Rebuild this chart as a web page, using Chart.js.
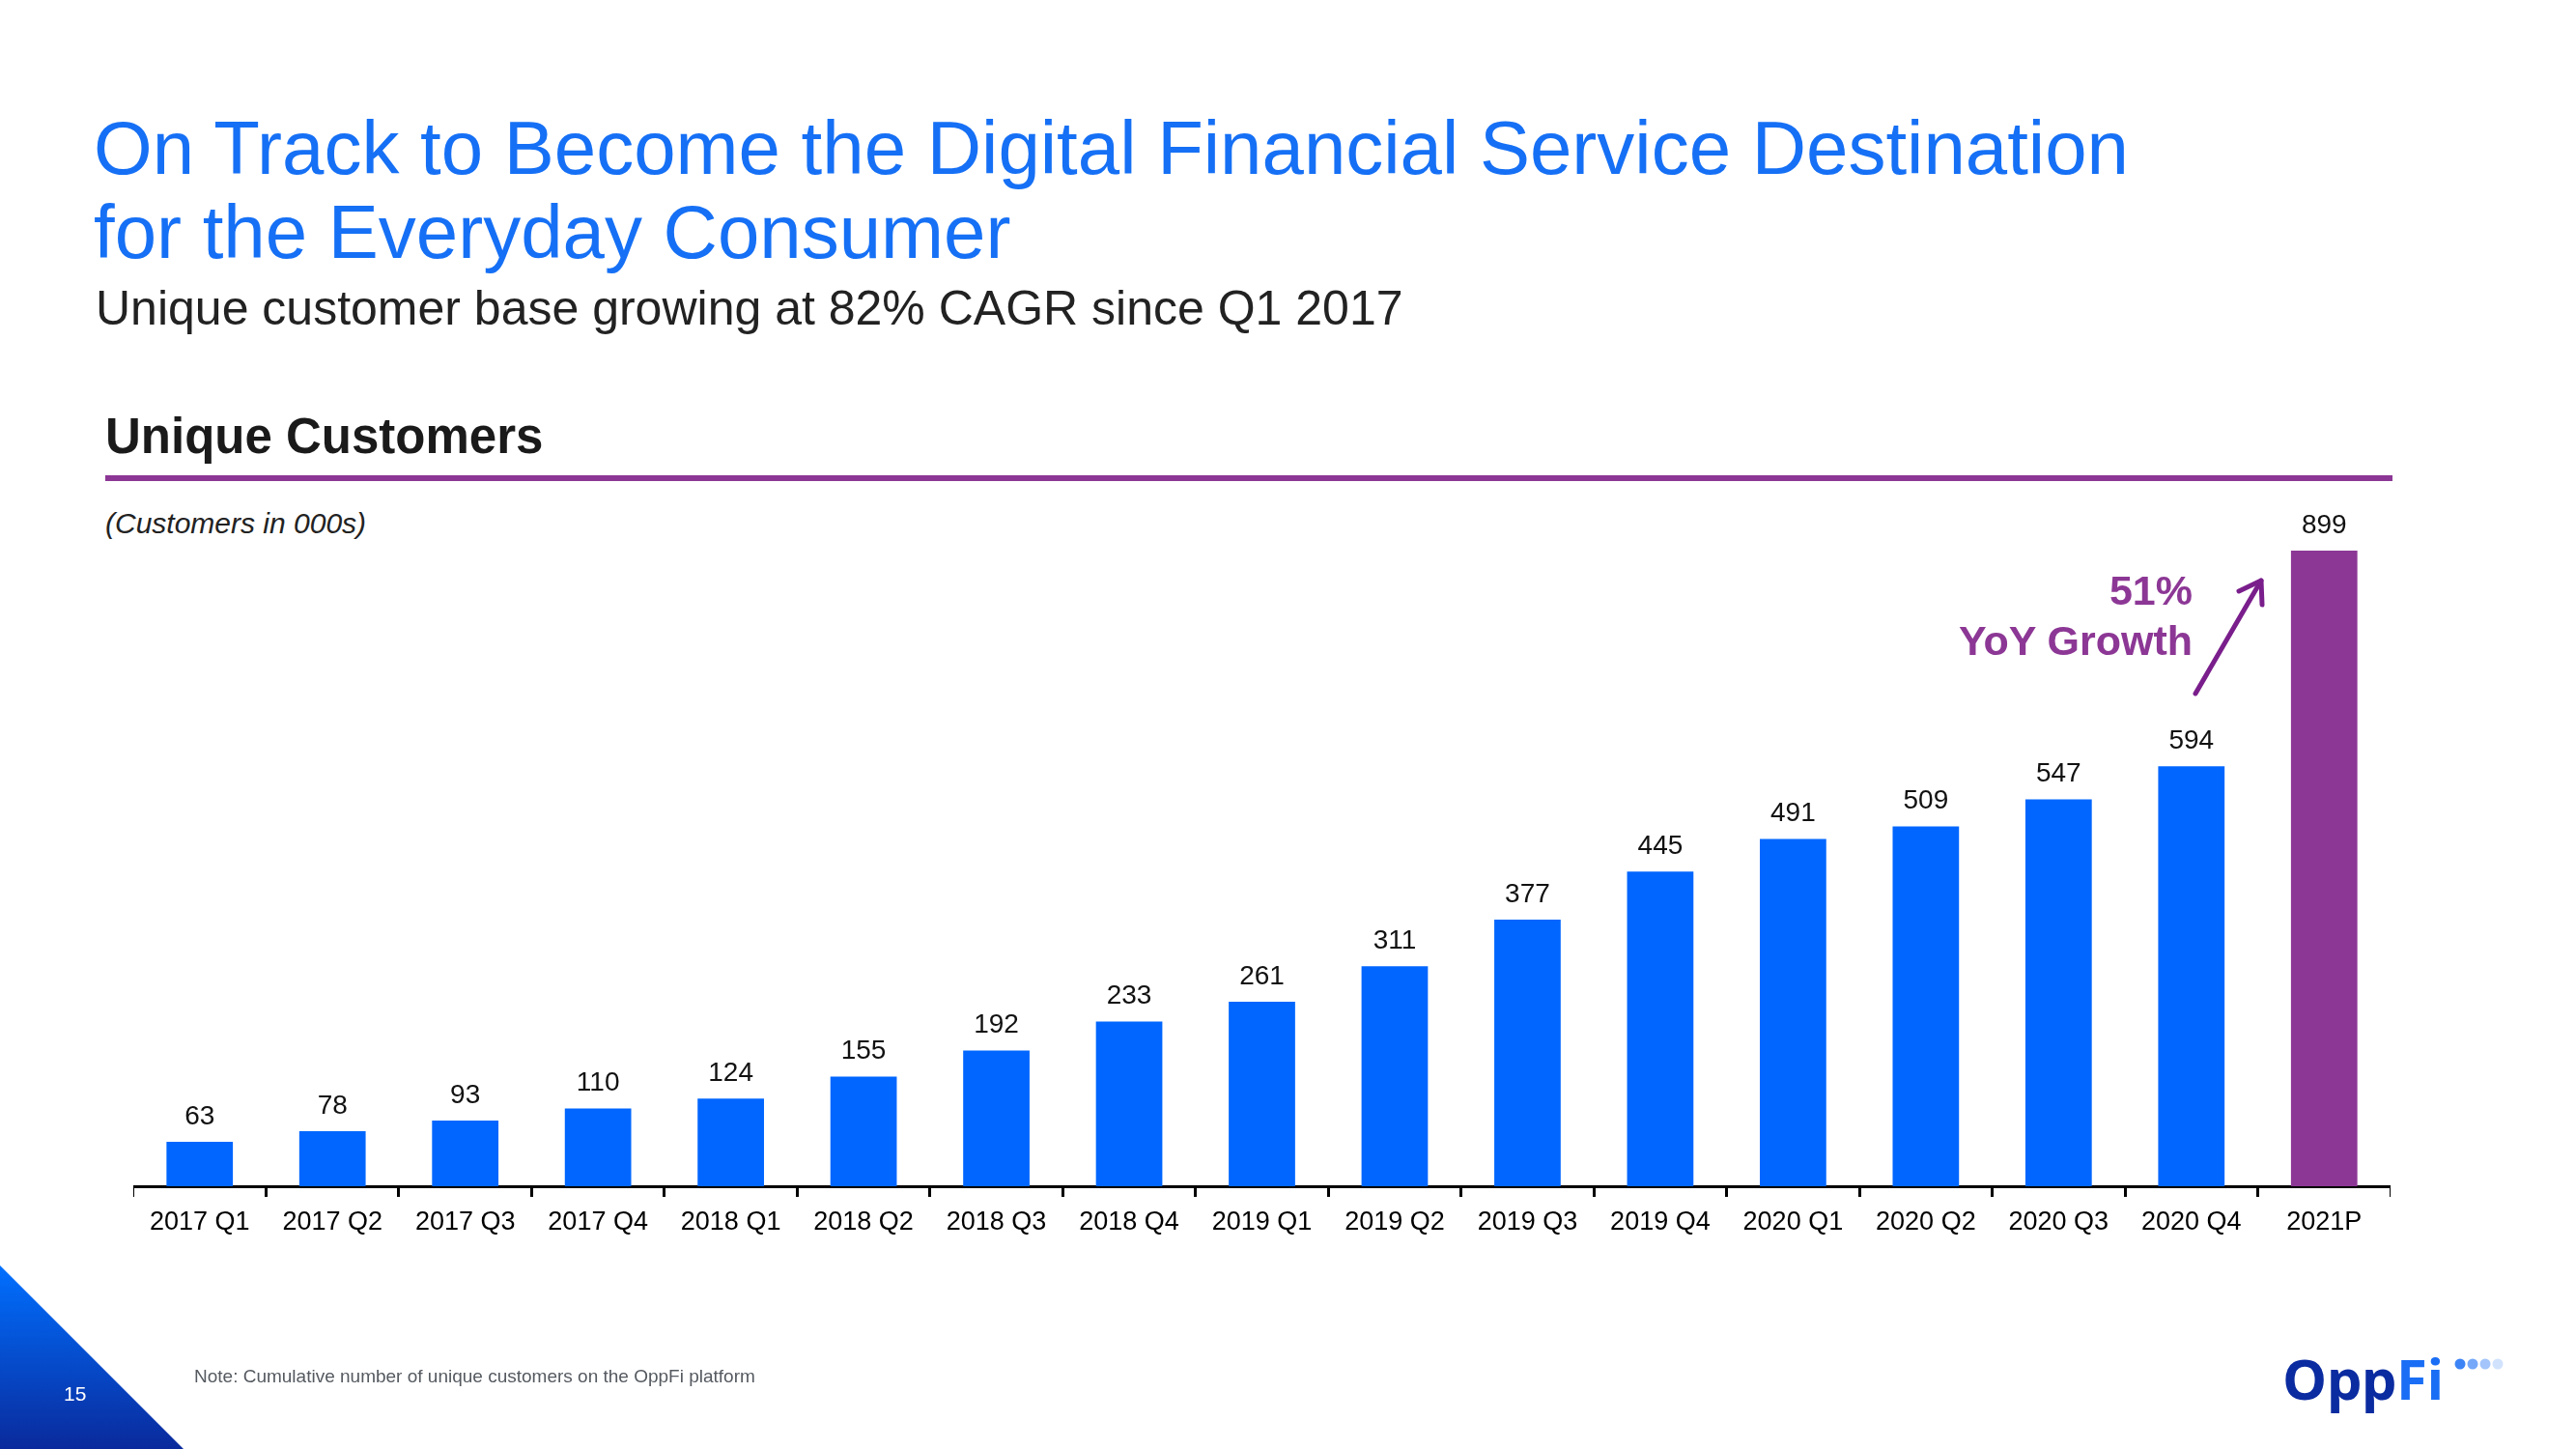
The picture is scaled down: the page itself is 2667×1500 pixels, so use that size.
<!DOCTYPE html>
<html>
<head>
<meta charset="utf-8">
<script src="https://cdn.jsdelivr.net/npm/chart.js@4/dist/chart.umd.min.js"></script>
<style>
  html, body { margin: 0; padding: 0; background: #fff; }
  body { width: 2667px; height: 1500px; position: relative; overflow: hidden;
         font-family: "Liberation Sans", Arial, Helvetica, sans-serif; }
  .abs { position: absolute; white-space: nowrap; }
  #title { left: 97px; top: 110px; font-size: 78px; line-height: 87px; color: #1670f5; }
  #subtitle { left: 99px; top: 294px; font-size: 50px; line-height: 50px; color: #222; }
  #sectionTitle { left: 109px; top: 427px; font-size: 51px; line-height: 50px; font-weight: bold; color: #1a1a1a; }
  #rule { left: 109px; top: 492px; width: 2368px; height: 6px; background: #8c3795; }
  #unit { left: 109px; top: 527px; font-size: 30px; line-height: 30px; font-style: italic; color: #222; }
  #growth { left: 1900px; top: 585px; width: 370px; text-align: right; font-size: 43px; line-height: 52px; font-weight: bold; color: #8c3795; }
  #chartBox { left: 138px; top: 496px; width: 2337px; height: 1004px; }
  #corner { left: 0; top: 1310px; width: 190px; height: 190px;
            background: linear-gradient(180deg, #0070ff 0%, #0a2a9c 100%);
            clip-path: polygon(0 0, 100% 100%, 0 100%); }
  #pageNum { left: 66px; top: 1432px; font-size: 21px; line-height: 21px; color: #fff; }
  #note { left: 201px; top: 1415px; font-size: 19px; line-height: 19px; color: #555a60; }
  #logo { left: 2363px; top: 1392px; font-family: "Open Sans", sans-serif; font-weight: 700; font-size: 58px; line-height: 70px; letter-spacing: -0.5px; }
  #logo .opp { color: #0b2ba0; }
  #logo .fi { color: #1a6ef5; }
</style>
</head>
<body>
<div class="abs" id="title">On Track to Become the Digital Financial Service Destination<br>for the Everyday Consumer</div>
<div class="abs" id="subtitle">Unique customer base growing at 82% CAGR since Q1 2017</div>
<div class="abs" id="sectionTitle">Unique Customers</div>
<div class="abs" id="rule"></div>
<div class="abs" id="unit">(Customers in 000s)</div>
<div class="abs" id="chartBox"><canvas id="chart"></canvas></div>
<div class="abs" id="growth">51%<br>YoY Growth</div>
<svg class="abs" style="left:0;top:0" width="2667" height="1500">
  <g stroke="#7a1e8c" stroke-width="5" fill="none" stroke-linecap="round" stroke-linejoin="round">
    <line x1="2273" y1="718" x2="2341" y2="601"/>
    <polyline points="2318,612 2341,601 2342,626"/>
  </g>
  <g fill="#1a6ef5">
    <circle cx="2547" cy="1412" r="5.5" opacity="0.85"/>
    <circle cx="2560" cy="1412" r="5.5" opacity="0.6"/>
    <circle cx="2573" cy="1412" r="5.5" opacity="0.4"/>
    <circle cx="2586" cy="1412" r="5.5" opacity="0.2"/>
  </g>
</svg>
<div class="abs" id="corner"></div>
<div class="abs" id="pageNum">15</div>
<div class="abs" id="note">Note: Cumulative number of unique customers on the OppFi platform</div>
<div class="abs" id="logo"><span class="opp">Opp</span><span class="fi">Fi</span></div>

<script>
const periods = ['2017 Q1', '2017 Q2', '2017 Q3', '2017 Q4', '2018 Q1', '2018 Q2', '2018 Q3', '2018 Q4',
                 '2019 Q1', '2019 Q2', '2019 Q3', '2019 Q4', '2020 Q1', '2020 Q2', '2020 Q3', '2020 Q4', '2021P'];
const customers = [63, 78, 93, 110, 124, 155, 192, 233, 261, 311, 377, 445, 491, 509, 547, 594, 899];

const BLUE = '#0066ff';
const PURPLE = '#8c3795';

// value labels over each bar
const barLabels = {
    id: 'barLabels',
    afterDatasetsDraw(chart) {
        const ctx = chart.ctx;
        const meta = chart.getDatasetMeta(0);
        ctx.save();
        ctx.font = '28px "Liberation Sans", Arial, sans-serif';
        ctx.fillStyle = '#111';
        ctx.textAlign = 'center';
        ctx.textBaseline = 'middle';
        meta.data.forEach((bar, i) => {
            ctx.fillText(String(customers[i]), bar.x, bar.y - 26);
        });
        ctx.restore();
    }
};

new Chart(document.getElementById('chart'), {
    type: 'bar',
    data: {
        labels: periods,
        datasets: [{
            data: customers,
            backgroundColor: customers.map((v, i) => i === customers.length - 1 ? PURPLE : BLUE),
            barPercentage: 0.5,
            categoryPercentage: 1.0
        }]
    },
    options: {
        responsive: true,
        maintainAspectRatio: false,
        animation: false,
        layout: { padding: 0 },
        plugins: { legend: { display: false }, tooltip: { enabled: false } },
        scales: {
            y: { display: false, min: 0, max: 1000 },
            x: {
                offset: true,
                afterFit: (scale) => {
                    scale.height = 272;
                    scale.paddingLeft = 0;
                    scale.paddingRight = 0;
                },
                border: { display: true, color: '#000', width: 3 },
                grid: { display: true, offset: true, drawOnChartArea: false, drawTicks: true,
                        tickLength: 11, tickWidth: 3, tickColor: '#000' },
                ticks: { color: '#000', font: { size: 27, family: '"Liberation Sans", Arial, sans-serif' },
                         padding: 10, autoSkip: false, maxRotation: 0 }
            }
        }
    },
    plugins: [barLabels]
});
</script>
</body>
</html>
